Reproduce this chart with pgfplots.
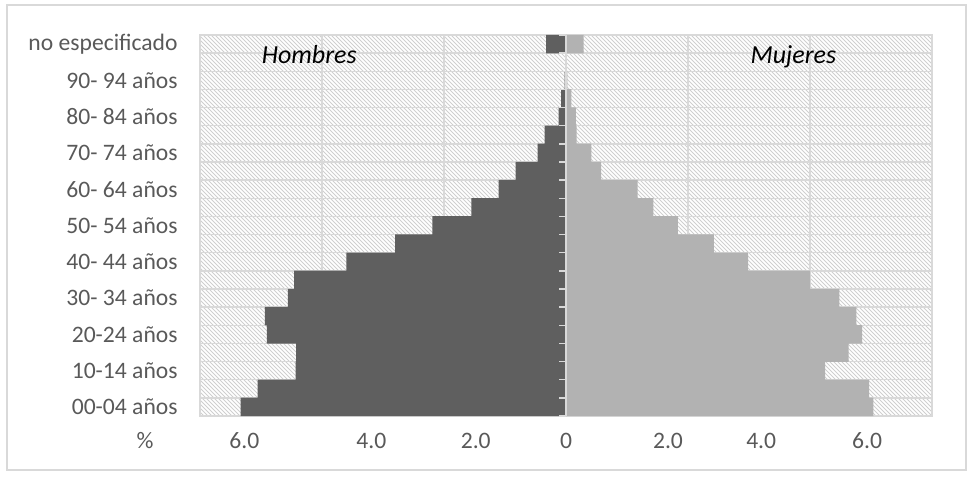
\documentclass[border=0pt]{standalone}
\usepackage{pgfplots}
\pgfplotsset{compat=1.18}
\usepackage{fontspec}
\setmainfont{Carlito}
\definecolor{gridgray}{HTML}{D9D9D9}
\definecolor{hatchgray}{HTML}{CFCFCF}
\definecolor{male}{HTML}{5F5F5F}
\definecolor{female}{HTML}{B2B2B2}
\definecolor{labgray}{HTML}{595959}
\begin{document}
\begin{tikzpicture}
\useasboundingbox (0,0) rectangle (486.5pt,238pt);
\draw[gridgray, line width=0.6pt] (3.5pt,3pt) rectangle (483pt,235.5pt);
% hatched plot-area background
\begin{scope}
  \clip (100pt,30pt) rectangle (466pt,220.5pt);
  \foreach \k in {0,...,280} {
    \draw[hatchgray, line width=0.5pt] ({(-90.5+2*\k)*1pt},220.5pt) -- ++(190.5pt,-190.5pt);
  }
\end{scope}
\begin{axis}[
  at={(100pt,30pt)}, anchor=south west,
  scale only axis, width=366pt, height=190.5pt,
  xmin=-7.5, xmax=7.5, ymin=-0.5, ymax=20.5,
  axis line style={draw=gridgray, line width=0.75pt},
  ytick={0,2,...,20},
  yticklabels={00-04 años,10-14 años,20-24 años,30- 34 años,40- 44 años,50- 54 años,60- 64 años,70- 74 años,80- 84 años,90- 94 años,no especificado},
  minor ytick={0.5,1.5,...,19.5},
  yminorgrids=true,
  minor grid style={draw=gridgray, line width=0.75pt},
  major tick length=0pt, minor tick length=0pt,
  xtick={-6.59,-3.99,-1.85,0,2.09,4.00,6.17},
  xticklabels={6.0,4.0,2.0,0,2.0,4.0,6.0},
  extra x ticks={-5,-2.5,2.5,5},
  extra x tick labels={},
  extra x tick style={grid=major, major grid style={draw=gridgray, line width=0.75pt}},
  tick label style={font=\fontsize{11.8}{14}\selectfont, text=labgray},
  xticklabel style={anchor=center, yshift=-12.5pt},
  yticklabel style={anchor=east, inner sep=0pt, xshift=-11pt},
]
% Hombres (negative)
\addplot[xbar, bar width=1.02, bar shift=0pt, fill=male, draw=none] coordinates {
(-6.67,0) (-6.32,1) (-5.54,2) (-5.53,3) (-6.13,4) (-6.17,5) (-5.70,6) (-5.57,7)
(-4.50,8) (-3.50,9) (-2.74,10) (-1.94,11) (-1.38,12) (-1.03,13) (-0.58,14)
(-0.44,15) (-0.15,16) (-0.10,17) (-0.03,18) (-0.02,19) (-0.41,20)
};
% Mujeres
\addplot[xbar, bar width=1.02, bar shift=0pt, fill=female, draw=none] coordinates {
(6.30,0) (6.21,1) (5.31,2) (5.79,3) (6.07,4) (5.95,5) (5.60,6) (5.00,7)
(3.73,8) (3.03,9) (2.29,10) (1.79,11) (1.47,12) (0.72,13) (0.52,14)
(0.22,15) (0.20,16) (0.11,17) (0.03,18) (0.02,19) (0.36,20)
};
\draw[gridgray, line width=1pt] (axis cs:0,-0.5) -- (axis cs:0,20.5);
\pgfplotsinvokeforeach{-0.5,0.5,...,20.5}{
  \draw[gridgray, line width=0.75pt] (axis cs:0,#1) -- ([xshift=-3.5pt]axis cs:0,#1);
}
\node[font=\fontsize{13}{15}\selectfont\itshape, anchor=base] at (axis cs:-5.26,18.94) {Hombres};
\node[font=\fontsize{13}{15}\selectfont\itshape, anchor=base] at (axis cs:4.66,18.94) {Mujeres};
\end{axis}
\node[font=\fontsize{11.8}{14}\selectfont, text=labgray] at (72.5pt,17.5pt) {\%};
\end{tikzpicture}
\end{document}
